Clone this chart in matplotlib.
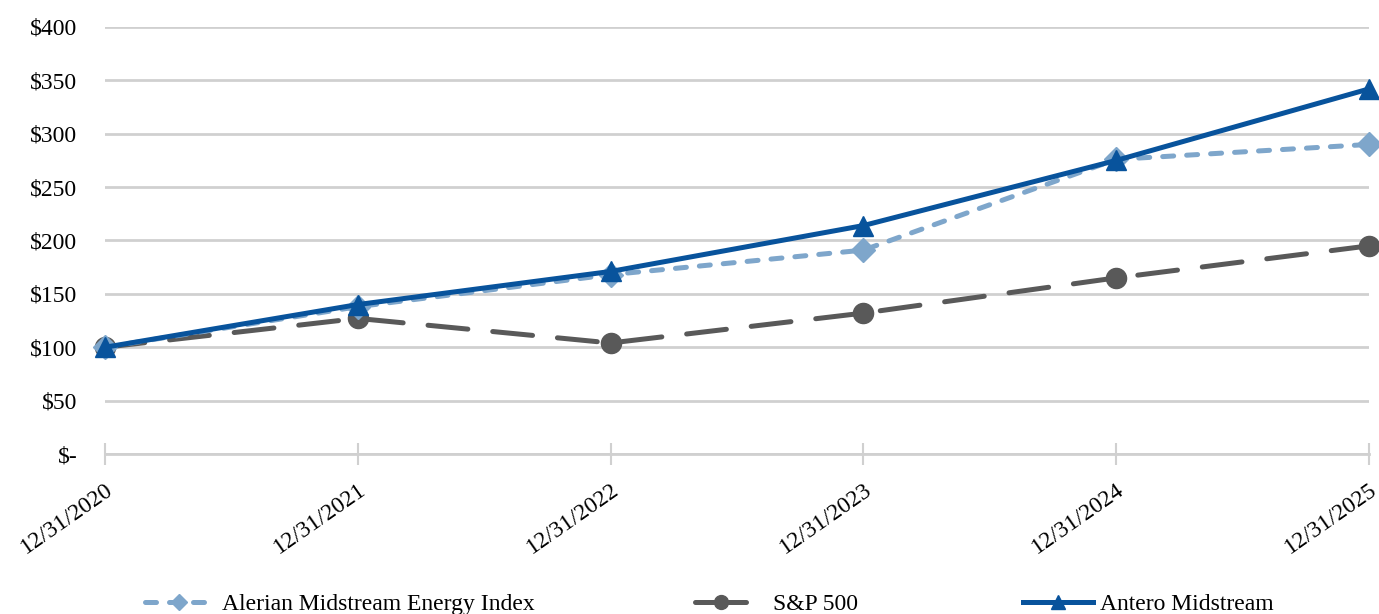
import matplotlib
matplotlib.use("Agg")
import matplotlib.pyplot as plt
from matplotlib.lines import Line2D
import matplotlib.transforms as mtransforms

categories = ["12/31/2020", "12/31/2021", "12/31/2022", "12/31/2023", "12/31/2024", "12/31/2025"]
alerian = [100, 138, 168, 191, 276, 290]
sp500 = [100, 127, 104, 132, 165, 195]
antero = [100, 140, 171, 214, 275, 342]
y_ticks = [0, 50, 100, 150, 200, 250, 300, 350, 400]
y_labels = ["$-", "$50", "$100", "$150", "$200", "$250", "$300", "$350", "$400"]
series_names = ["Alerian Midstream Energy Index", "S&P 500", "Antero Midstream"]

plt.rcParams['font.family'] = ['Liberation Serif', 'DejaVu Serif']
FS = 17
plt.rcParams['font.size'] = FS

W, H = 1379, 614
fig = plt.figure(figsize=(W / 100, H / 100), dpi=100)
ax = fig.add_axes([105 / W, 1 - 454 / H, (1369 - 105) / W, (454 - 27) / H])

c_al = "#7ea6cb"
c_sp = "#595959"
c_an = "#08539c"
lw = 3.6

x = list(range(len(categories)))
ax.plot(x, alerian, color=c_al, lw=lw, linestyle=(0, (2.2, 2.6)), dash_capstyle="round",
        marker="D", markersize=12, zorder=4, clip_on=False)
ax.plot(x, sp500, color=c_sp, lw=lw, linestyle=(0, (8.0, 5.0)), dash_capstyle="round",
        marker="o", markersize=14.5, zorder=3, clip_on=False)
ax.plot(x, antero, color=c_an, lw=lw, linestyle="-", solid_capstyle="round",
        marker="^", markersize=15, zorder=5, clip_on=False)

ax.set_xlim(0, 5)
ax.set_ylim(0, 400)
ax.set_yticks(y_ticks)
ax.set_yticklabels(y_labels)
ax.set_xticks(x)
ax.set_xticklabels(categories, rotation=35, ha="right", va="top", rotation_mode="anchor")
offset = mtransforms.ScaledTranslation(-5 / 100, 0, fig.dpi_scale_trans)
for lab in ax.get_xticklabels():
    lab.set_transform(lab.get_transform() + offset)
for spine in ["left", "right", "top"]:
    ax.spines[spine].set_visible(False)
ax.spines["bottom"].set_color("#d0d0d0")
ax.spines["bottom"].set_linewidth(2)
ax.tick_params(axis="y", length=0, pad=20)
ax.tick_params(axis="x", direction="inout", length=16, width=1.5, color="#d0d0d0", pad=10)
ax.yaxis.grid(True, color="#d0d0d0", lw=2)
ax.set_axisbelow(True)

# legend (three separately placed entries)
h_al = Line2D([], [], color=c_al, lw=lw, linestyle=(0, (2.2, 2.6)), dash_capstyle="round",
              marker="D", markersize=8)
h_sp = Line2D([], [], color=c_sp, lw=lw, linestyle="-", solid_capstyle="round",
              marker="o", markersize=10)
h_an = Line2D([], [], color=c_an, lw=lw, linestyle="-", marker="^", markersize=10)
entries = [
    (h_al, series_names[0], 145, 68, 9),
    (h_sp, series_names[1], 695, 51, 27),
    (h_an, series_names[2], 1023, 70, 7),
]
for h, name, x0, hl, pad in entries:
    fig.legend([h], [name], loc="center left", bbox_to_anchor=(x0 / W, 1 - 604 / H),
               frameon=False, borderpad=0, borderaxespad=0,
               handlelength=hl / (FS * 100 / 72), handletextpad=pad / (FS * 100 / 72),
               fontsize=FS)

fig.savefig("out.png", dpi=100)
